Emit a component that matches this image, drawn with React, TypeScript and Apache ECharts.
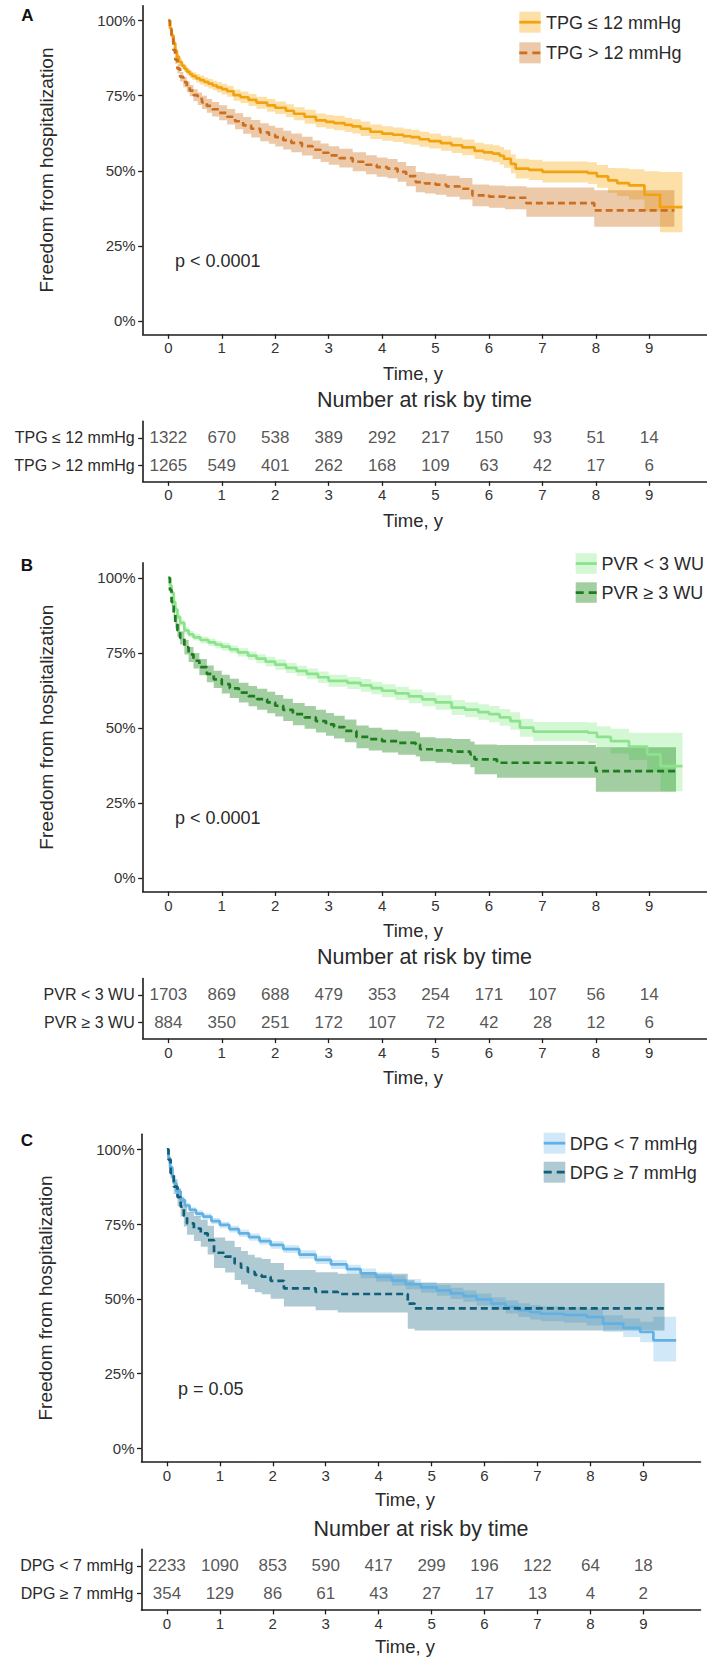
import React, { useEffect, useRef } from "react";
import * as echarts from "echarts";

// ---------------- data ----------------
const riskTimes = [0, 1, 2, 3, 4, 5, 6, 7, 8, 9];
const xTickValues = [0, 1, 2, 3, 4, 5, 6, 7, 8, 9];
const yTickValues = [0, 25, 50, 75, 100];

// Panel A — TPG ≤ 12 mmHg
const tpgLowT = [0, 0.03, 0.06, 0.1, 0.13, 0.16, 0.2, 0.25, 0.3, 0.345, 0.4, 0.45, 0.52, 0.59, 0.67, 0.75, 0.83, 0.91, 1.0, 1.1, 1.22, 1.35, 1.5, 1.65, 1.85, 2.0, 2.2, 2.35, 2.55, 2.76, 2.95, 3.1, 3.3, 3.44, 3.6, 3.78, 4.0, 4.2, 4.4, 4.54, 4.7, 4.88, 5.1, 5.3, 5.5, 5.73, 5.9, 6.07, 6.2, 6.28, 6.41, 6.5, 6.75, 7.0, 7.85, 8.02, 8.23, 8.4, 8.62, 8.91, 9.2];
const tpgLowS = [100, 97.5, 95, 92.5, 90, 88, 86.3, 85, 84, 83, 82.2, 81.5, 80.8, 80.2, 79.6, 79, 78.4, 77.8, 77.2, 76.5, 75.2, 74.5, 73.6, 72.7, 71.8, 71, 70, 69, 68, 66.8, 66.3, 65.9, 65.3, 64.8, 64, 63, 62.4, 62, 61.5, 61.2, 60.5, 59.9, 59.2, 58.5, 57.8, 56.6, 56.1, 55.7, 55, 54, 52.3, 50.7, 50.3, 49.6, 49.2, 48.1, 46.8, 45.9, 45.1, 42, 37.9];
const tpgLowLo = [100, 96.8, 94.2, 91.6, 89, 87, 85.2, 83.9, 82.8, 81.8, 80.9, 80.2, 79.4, 78.7, 78.1, 77.4, 76.8, 76.1, 75.4, 74.7, 73.3, 72.6, 71.6, 70.7, 69.7, 68.9, 67.8, 66.8, 65.7, 64.5, 64, 63.5, 62.9, 62.4, 61.6, 60.6, 60, 59.6, 59, 58.7, 58, 57.4, 56.7, 55.9, 55.2, 53.9, 53.4, 52.9, 52.1, 51, 49.2, 47.4, 46.9, 46.1, 45.6, 44.3, 42.7, 41.6, 40.4, 36.5, 29.5];
const tpgLowHi = [100, 98.1, 95.8, 93.4, 91, 89, 87.4, 86.1, 85.2, 84.2, 83.5, 82.8, 82.2, 81.7, 81.1, 80.6, 80, 79.5, 79, 78.3, 77.1, 76.4, 75.6, 74.7, 73.9, 73.1, 72.2, 71.2, 70.3, 69.1, 68.6, 68.3, 67.7, 67.2, 66.4, 65.4, 64.8, 64.4, 64, 63.7, 63, 62.4, 61.7, 61.1, 60.4, 59.3, 58.8, 58.5, 57.9, 57, 55.4, 54, 53.7, 53.1, 52.8, 51.9, 50.9, 50.8, 50.5, 49.8, 49.6];
const tpgLowEnd = 9.62;

// Panel A — TPG > 12 mmHg
const tpgHighT = [0, 0.03, 0.06, 0.094, 0.13, 0.17, 0.22, 0.28, 0.345, 0.4, 0.47, 0.55, 0.63, 0.72, 0.82, 0.95, 1.1, 1.25, 1.4, 1.55, 1.72, 1.88, 2.0, 2.15, 2.3, 2.5, 2.7, 2.85, 3.0, 3.2, 3.45, 3.7, 3.9, 4.1, 4.29, 4.45, 4.63, 4.8, 5.0, 5.2, 5.45, 5.69, 6.0, 6.3, 6.7, 7.97];
const tpgHighS = [100, 97, 94, 90.2, 87, 84, 81.3, 79.5, 78, 76.7, 75.2, 74, 72.8, 71.6, 70.5, 69.3, 68, 66.5, 65.1, 64, 62.8, 62, 61.2, 60.2, 59.3, 58.2, 57, 56, 55.1, 54.2, 53, 52, 51.2, 50.7, 49.6, 48.2, 46.2, 45.8, 45.4, 44.8, 44, 41.8, 41.4, 41, 39.2, 36.8];
const tpgHighLo = [100, 96.1, 92.9, 88.9, 85.6, 82.5, 79.7, 77.8, 76.2, 74.8, 73.2, 71.9, 70.6, 69.3, 68.1, 66.8, 65.4, 63.8, 62.3, 61.1, 59.8, 59, 58.1, 57.1, 56.2, 55.1, 53.9, 52.9, 52, 51.1, 49.8, 48.8, 48, 47.5, 46.3, 44.8, 42.8, 42.4, 42, 41.3, 40.4, 38.2, 37.7, 37.2, 34.7, 31.3];
const tpgHighHi = [100, 97.9, 95.1, 91.5, 88.4, 85.5, 82.9, 81.2, 79.8, 78.6, 77.2, 76.1, 75, 73.9, 72.9, 71.8, 70.6, 69.2, 67.9, 66.9, 65.8, 65, 64.3, 63.3, 62.4, 61.3, 60.1, 59.1, 58.2, 57.3, 56.2, 55.2, 54.4, 53.9, 52.9, 51.6, 49.6, 49.2, 48.8, 48.3, 47.6, 45.4, 45.1, 44.8, 44.4, 43.5];
const tpgHighEnd = 9.47;

// Panel B — PVR < 3 WU
const pvrLowT = [0, 0.03, 0.06, 0.1, 0.13, 0.17, 0.22, 0.3, 0.38, 0.47, 0.6, 0.75, 0.88, 1.0, 1.15, 1.3, 1.49, 1.65, 1.82, 2.0, 2.2, 2.4, 2.59, 2.8, 3.0, 3.35, 3.6, 3.8, 4.0, 4.25, 4.5, 4.75, 5.0, 5.3, 5.55, 5.8, 6.0, 6.2, 6.4, 6.58, 6.83, 7.85, 8.02, 8.28, 8.62, 8.96, 9.21];
const pvrLowS = [100, 97.5, 95, 92, 89.5, 87, 85, 82.5, 81.2, 80.2, 79.3, 78.5, 77.8, 77.1, 76.2, 75.2, 74.1, 73.1, 72.1, 71.1, 70, 69, 68, 66.9, 65.7, 65, 64.2, 63.3, 62.4, 61.5, 60.5, 59.5, 58.5, 56.8, 56.1, 55.3, 54.6, 53.5, 52.3, 50.1, 48.8, 48.4, 47, 45.6, 43.8, 41.2, 37.3];
const pvrLowLo = [100, 96.9, 94.3, 91.2, 88.6, 86, 84, 81.4, 80.1, 79.1, 78.1, 77.3, 76.6, 75.8, 74.9, 73.8, 72.7, 71.6, 70.5, 69.4, 68.3, 67.3, 66.2, 65, 63.7, 63, 62.1, 61.2, 60.2, 59.3, 58.2, 57.2, 56.1, 54.3, 53.6, 52.7, 51.9, 50.7, 49.4, 47.1, 45.6, 45, 43.4, 41.5, 39.3, 35.5, 28.9];
const pvrLowHi = [100, 98.1, 95.7, 92.8, 90.4, 88, 86, 83.6, 82.3, 81.3, 80.5, 79.7, 79, 78.4, 77.5, 76.6, 75.5, 74.6, 73.7, 72.8, 71.7, 70.7, 69.8, 68.8, 67.7, 67, 66.3, 65.4, 64.6, 63.7, 62.8, 61.8, 60.9, 59.3, 58.6, 57.9, 57.3, 56.3, 55.2, 53.1, 52, 51.8, 50.6, 49.7, 48.4, 48.4, 48.4];
const pvrLowEnd = 9.62;

// Panel B — PVR ≥ 3 WU
const pvrHighT = [0, 0.03, 0.06, 0.1, 0.13, 0.17, 0.22, 0.3, 0.38, 0.47, 0.58, 0.72, 0.85, 1.0, 1.15, 1.32, 1.5, 1.66, 1.85, 2.0, 2.15, 2.33, 2.55, 2.76, 2.95, 3.1, 3.3, 3.52, 3.75, 4.0, 4.3, 4.63, 4.71, 5.0, 5.3, 5.65, 5.73, 6.15, 8.0];
const pvrHighS = [100, 96, 92, 88, 85, 82.5, 80, 76.9, 74.5, 72.4, 70.3, 68, 66.2, 64.6, 63.2, 61.8, 60.6, 59.6, 58.5, 57.4, 56, 54.6, 53.5, 52.3, 51.2, 50.3, 49, 47, 46.3, 45.6, 45, 44.5, 42.9, 42.5, 42.1, 41.2, 39.5, 38.4, 35.6];
const pvrHighLo = [100, 95, 90.6, 86.3, 83.1, 80.4, 77.8, 74.5, 72, 69.8, 67.6, 65.2, 63.3, 61.5, 60, 58.5, 57.2, 56.1, 54.9, 53.8, 52.3, 50.9, 49.7, 48.5, 47.4, 46.5, 45.2, 43.2, 42.5, 41.8, 41.1, 40.5, 38.9, 38.4, 37.9, 36.9, 34.6, 33.4, 28.7];
const pvrHighHi = [100, 97, 93.4, 89.7, 86.9, 84.6, 82.2, 79.3, 77, 75, 73, 70.8, 69.1, 67.7, 66.4, 65.1, 64, 63.1, 62.1, 61, 59.7, 58.3, 57.3, 56.1, 55, 54.1, 52.8, 50.8, 50.1, 49.4, 48.9, 48.5, 46.9, 46.6, 46.3, 45.5, 44.5, 44.3, 43.6];
const pvrHighEnd = 9.5;

// Panel C — DPG < 7 mmHg
const dpgLowT = [0, 0.03, 0.06, 0.1, 0.13, 0.18, 0.26, 0.34, 0.43, 0.55, 0.68, 0.84, 1.0, 1.18, 1.36, 1.55, 1.75, 1.96, 2.2, 2.5, 2.81, 3.1, 3.4, 3.66, 3.95, 4.25, 4.51, 4.8, 5.1, 5.36, 5.6, 5.85, 6.13, 6.4, 6.64, 6.86, 7.06, 7.5, 7.93, 8.24, 8.62, 8.94, 9.19];
const dpgLowS = [100, 97, 94, 91, 88.6, 86, 83, 81.2, 79.7, 78.5, 77.5, 76, 74.7, 73.3, 71.9, 70.6, 69.3, 68, 66.6, 64.8, 63, 61.5, 59.9, 58.5, 57.3, 56.1, 54.9, 53.8, 52.8, 51.8, 50.9, 49.8, 48.4, 47.3, 46.2, 45.5, 45, 44.6, 43.9, 41.7, 40.3, 38.9, 36.1];
const dpgLowLo = [100, 96.4, 93.3, 90.3, 87.8, 85.2, 82.1, 80.3, 78.8, 77.5, 76.5, 75, 73.6, 72.2, 70.7, 69.4, 68.1, 66.7, 65.3, 63.4, 61.6, 60, 58.4, 56.9, 55.7, 54.4, 53.2, 52, 51, 49.9, 49, 47.8, 46.3, 45.1, 43.9, 43.1, 42.5, 42, 41.1, 38.9, 37.2, 35.5, 29];
const dpgLowHi = [100, 97.6, 94.7, 91.7, 89.4, 86.8, 83.9, 82.1, 80.6, 79.5, 78.5, 77, 75.8, 74.4, 73.1, 71.8, 70.5, 69.3, 67.9, 66.2, 64.4, 63, 61.4, 60.1, 58.9, 57.8, 56.6, 55.6, 54.6, 53.7, 52.8, 51.8, 50.5, 49.5, 48.5, 47.9, 47.5, 47.2, 46.7, 44.5, 43.4, 42.3, 44];
const dpgLowEnd = 9.62;

// Panel C — DPG ≥ 7 mmHg
const dpgHighT = [0, 0.03, 0.07, 0.13, 0.2, 0.26, 0.32, 0.38, 0.51, 0.64, 0.77, 0.89, 1.1, 1.28, 1.4, 1.53, 1.66, 1.79, 1.96, 2.21, 2.81, 3.23, 4.55, 4.68];
const dpgHighS = [100, 96.5, 92, 87.5, 84, 80.8, 77.8, 75.2, 73.5, 71.9, 69.6, 65.4, 64.1, 61.8, 60.4, 59, 58, 57.4, 56, 53.5, 52.3, 51.6, 48.4, 46.8];
const dpgHighLo = [100, 95.3, 90.2, 85, 81, 77.5, 74.2, 71.4, 69.3, 67.4, 64.8, 60.3, 58.8, 56.3, 54.8, 53.3, 52.2, 51.5, 50, 47.4, 46.2, 45.4, 40, 39.4];
const dpgHighHi = [100, 97.7, 93.8, 90, 87, 84.1, 81.4, 79, 77.7, 76.4, 74.4, 70.5, 69.4, 67.3, 66, 64.7, 63.8, 63.3, 62, 59.6, 58.9, 58.4, 56.2, 55.3];
const dpgHighEnd = 9.4;

// Numbers at risk
const riskTpgLow = [1322, 670, 538, 389, 292, 217, 150, 93, 51, 14];
const riskTpgHigh = [1265, 549, 401, 262, 168, 109, 63, 42, 17, 6];
const riskPvrLow = [1703, 869, 688, 479, 353, 254, 171, 107, 56, 14];
const riskPvrHigh = [884, 350, 251, 172, 107, 72, 42, 28, 12, 6];
const riskDpgLow = [2233, 1090, 853, 590, 417, 299, 196, 122, 64, 18];
const riskDpgHigh = [354, 129, 86, 61, 43, 27, 17, 13, 4, 2];

const pValues = ["p < 0.0001", "p < 0.0001", "p = 0.05"];
const groupNames = [
  ["TPG ≤ 12 mmHg", "TPG > 12 mmHg"],
  ["PVR < 3 WU", "PVR ≥ 3 WU"],
  ["DPG < 7 mmHg", "DPG ≥ 7 mmHg"],
];

// ---------------- styles / layout ----------------
const FONT = "'Liberation Sans', Arial, sans-serif";
const AXIS_COLOR = "#1c1c1c";
const TEXT_COLOR = "#2a2a2a";

const COLORS = [
  [
    { line: "#F3A20F", band: "rgba(247,177,37,0.40)" },
    { line: "#CC6E1E", band: "rgba(206,112,30,0.38)" },
  ],
  [
    { line: "#8DE38D", band: "rgba(144,238,144,0.40)" },
    { line: "#1B7D1B", band: "rgba(34,139,34,0.42)" },
  ],
  [
    { line: "#62B1E4", band: "rgba(99,179,230,0.30)" },
    { line: "#0F5E7A", band: "rgba(15,94,122,0.33)" },
  ],
];

const LAYOUT = [
  {
    letter: "A", left: 142.7, width: 564.3, plotTop: 5.7, plotH: 328.6, tableTop: 421.4, tableH: 60,
    letterX: 27.5, letterY: 15.7, yTitleX: 46, timeX: 413, time1Y: 373, nrX: 424.5, nrY: 400, time2Y: 520,
    pX: 175, pY: 261, legX: 519.3, legY1: 11.7, legY2: 42.3, legW: 21.4, legH: 21, legTextX: 546,
  },
  {
    letter: "B", left: 142.7, width: 564.3, plotTop: 562.9, plotH: 328.6, tableTop: 978.6, tableH: 60,
    letterX: 27, letterY: 565.7, yTitleX: 46, timeX: 413, time1Y: 930, nrX: 424.5, nrY: 956.7, time2Y: 1077,
    pX: 175, pY: 817.7, legX: 575.7, legY1: 553.3, legY2: 582.3, legW: 21.1, legH: 20.5, legTextX: 601.4,
  },
  {
    letter: "C", left: 141.5, width: 559, plotTop: 1134.3, plotH: 327.5, tableTop: 1549.4, tableH: 60.5,
    letterX: 27, letterY: 1140, yTitleX: 45, timeX: 405, time1Y: 1499.3, nrX: 421, nrY: 1529.3, time2Y: 1646.7,
    pX: 178, pY: 1389.3, legX: 543.7, legY1: 1132.7, legY2: 1161.7, legW: 21.6, legH: 21, legTextX: 569.8,
  },
];

const PANEL_DATA = [
  [
    { t: tpgLowT, s: tpgLowS, lo: tpgLowLo, hi: tpgLowHi, end: tpgLowEnd, risk: riskTpgLow },
    { t: tpgHighT, s: tpgHighS, lo: tpgHighLo, hi: tpgHighHi, end: tpgHighEnd, risk: riskTpgHigh },
  ],
  [
    { t: pvrLowT, s: pvrLowS, lo: pvrLowLo, hi: pvrLowHi, end: pvrLowEnd, risk: riskPvrLow },
    { t: pvrHighT, s: pvrHighS, lo: pvrHighLo, hi: pvrHighHi, end: pvrHighEnd, risk: riskPvrHigh },
  ],
  [
    { t: dpgLowT, s: dpgLowS, lo: dpgLowLo, hi: dpgLowHi, end: dpgLowEnd, risk: riskDpgLow },
    { t: dpgHighT, s: dpgHighS, lo: dpgHighLo, hi: dpgHighHi, end: dpgHighEnd, risk: riskDpgHigh },
  ],
];

const DASH = [7, 4];

function bandRenderer(g: any, color: string) {
  return (_params: any, api: any) => {
    const upper: number[][] = [];
    const lower: number[][] = [];
    for (let i = 0; i < g.t.length; i++) {
      const t2 = i < g.t.length - 1 ? g.t[i + 1] : g.end;
      upper.push(api.coord([g.t[i], g.hi[i]]), api.coord([t2, g.hi[i]]));
      lower.push(api.coord([g.t[i], g.lo[i]]), api.coord([t2, g.lo[i]]));
    }
    const pts = upper.concat(lower.reverse());
    return { type: "polygon", shape: { points: pts }, style: { fill: color }, silent: true };
  };
}

function text(x: number, y: number, str: string, size: number, opts: any = {}) {
  return {
    type: "text",
    x,
    y,
    rotation: opts.rotation || 0,
    silent: true,
    z: 50,
    style: {
      text: str,
      fill: opts.color || TEXT_COLOR,
      font: `${opts.bold ? "bold " : ""}${size}px ${FONT}`,
      textAlign: opts.align || "center",
      textVerticalAlign: "middle",
      verticalAlign: "middle",
    },
  };
}

function buildOption() {
  const grid: any[] = [];
  const xAxis: any[] = [];
  const yAxis: any[] = [];
  const series: any[] = [];
  const elements: any[] = [];

  const axisLine = { show: true, onZero: false, lineStyle: { color: AXIS_COLOR, width: 1.6 } };

  const makeX = (gi: number) => ({
    type: "value",
    gridIndex: gi,
    min: -0.48,
    max: 10.08,
    axisLine,
    axisTick: { show: true, length: 4.5, customValues: xTickValues, lineStyle: { color: AXIS_COLOR, width: 1.3 } },
    axisLabel: { customValues: xTickValues, fontSize: 15, color: "#333", margin: 6, fontFamily: FONT },
    splitLine: { show: false },
  });

  LAYOUT.forEach((L, k) => {
    const gMain = k * 2;
    const gTab = k * 2 + 1;
    const data = PANEL_DATA[k];
    const colors = COLORS[k];
    const names = groupNames[k];

    grid.push({ left: L.left, top: L.plotTop, width: L.width, height: L.plotH, containLabel: false, outerBoundsMode: "none" });
    grid.push({ left: L.left, top: L.tableTop, width: L.width, height: L.tableH, containLabel: false, outerBoundsMode: "none" });

    xAxis.push(makeX(gMain));
    xAxis.push(makeX(gTab));

    yAxis.push({
      type: "value",
      gridIndex: gMain,
      min: -4.5,
      max: 105,
      axisLine,
      axisTick: { show: true, length: 4.5, customValues: yTickValues, lineStyle: { color: AXIS_COLOR, width: 1.3 } },
      axisLabel: { customValues: yTickValues, formatter: (v: number) => `${v}%`, fontSize: 15, color: "#333", margin: 7, fontFamily: FONT },
      splitLine: { show: false },
    });
    yAxis.push({
      type: "value",
      gridIndex: gTab,
      min: 0.4,
      max: 2.6,
      inverse: true,
      axisLine,
      axisTick: { show: true, length: 4.5, customValues: [1, 2], lineStyle: { color: AXIS_COLOR, width: 1.3 } },
      axisLabel: {
        customValues: [1, 2],
        formatter: (v: number) => names[Math.round(v) - 1] || "",
        fontSize: 16,
        color: TEXT_COLOR,
        margin: 8,
        fontFamily: FONT,
      },
      splitLine: { show: false },
    });

    // bands
    data.forEach((g, j) => {
      series.push({
        type: "custom",
        xAxisIndex: gMain,
        yAxisIndex: gMain,
        data: [[0, 0]],
        renderItem: bandRenderer(g, colors[j].band),
        z: 2,
        silent: true,
      });
    });
    // curves
    data.forEach((g, j) => {
      const pts = g.t.map((x, i) => [x, g.s[i]]);
      pts.push([g.end, g.s[g.s.length - 1]]);
      series.push({
        type: "line",
        name: names[j],
        xAxisIndex: gMain,
        yAxisIndex: gMain,
        step: "end",
        data: pts,
        showSymbol: false,
        symbol: "none",
        z: 3,
        lineStyle: { color: colors[j].line, width: 2.7, type: j === 1 ? DASH : "solid", cap: "butt" },
        silent: true,
      });
    });
    // risk table
    data.forEach((g, j) => {
      series.push({
        type: "scatter",
        xAxisIndex: gTab,
        yAxisIndex: gTab,
        symbolSize: 1,
        itemStyle: { color: "rgba(0,0,0,0)" },
        data: riskTimes.map((x, i) => [x, j + 1, g.risk[i]]),
        label: {
          show: true,
          position: "inside",
          formatter: (p: any) => String(p.value[2]),
          fontSize: 17,
          color: TEXT_COLOR,
          fontFamily: FONT,
        },
        silent: true,
        z: 3,
      });
    });

    // texts
    elements.push(text(L.letterX, L.letterY, L.letter, 17, { bold: true, color: "#111" }));
    elements.push(text(L.yTitleX, L.plotTop + L.plotH / 2, "Freedom from hospitalization", 19, { rotation: Math.PI / 2 }));
    elements.push(text(L.timeX, L.time1Y, "Time, y", 18.5));
    elements.push(text(L.nrX, L.nrY, "Number at risk by time", 21.5));
    elements.push(text(L.timeX, L.time2Y, "Time, y", 18.5));
    elements.push(text(L.pX, L.pY, pValues[k], 18, { align: "left" }));

    // legend
    [L.legY1, L.legY2].forEach((ly, j) => {
      elements.push({
        type: "rect",
        z: 40,
        silent: true,
        shape: { x: L.legX, y: ly, width: L.legW, height: L.legH },
        style: { fill: colors[j].band },
      });
      elements.push({
        type: "line",
        z: 41,
        silent: true,
        shape: { x1: L.legX, y1: ly + L.legH / 2, x2: L.legX + L.legW, y2: ly + L.legH / 2 },
        style: { stroke: colors[j].line, lineWidth: 2.8, lineDash: j === 1 ? [8, 5] : null },
      });
      elements.push(text(L.legTextX, ly + L.legH / 2 + 0.5, names[j], 18, { align: "left" }));
    });
  });

  return {
    animation: false,
    backgroundColor: "#ffffff",
    textStyle: { fontFamily: FONT },
    grid,
    xAxis,
    yAxis,
    series,
    graphic: { elements },
  };
}

export default function App() {
  const ref = useRef<HTMLDivElement>(null);
  useEffect(() => {
    if (!ref.current) return;
    const chart = echarts.init(ref.current, undefined, { renderer: "svg" });
    chart.setOption(buildOption() as any);
    return () => chart.dispose();
  }, []);
  return (
    <div
      ref={ref}
      style={{ position: "absolute", left: 0, top: 0, width: 707, height: 1658, background: "#fff" }}
    />
  );
}
